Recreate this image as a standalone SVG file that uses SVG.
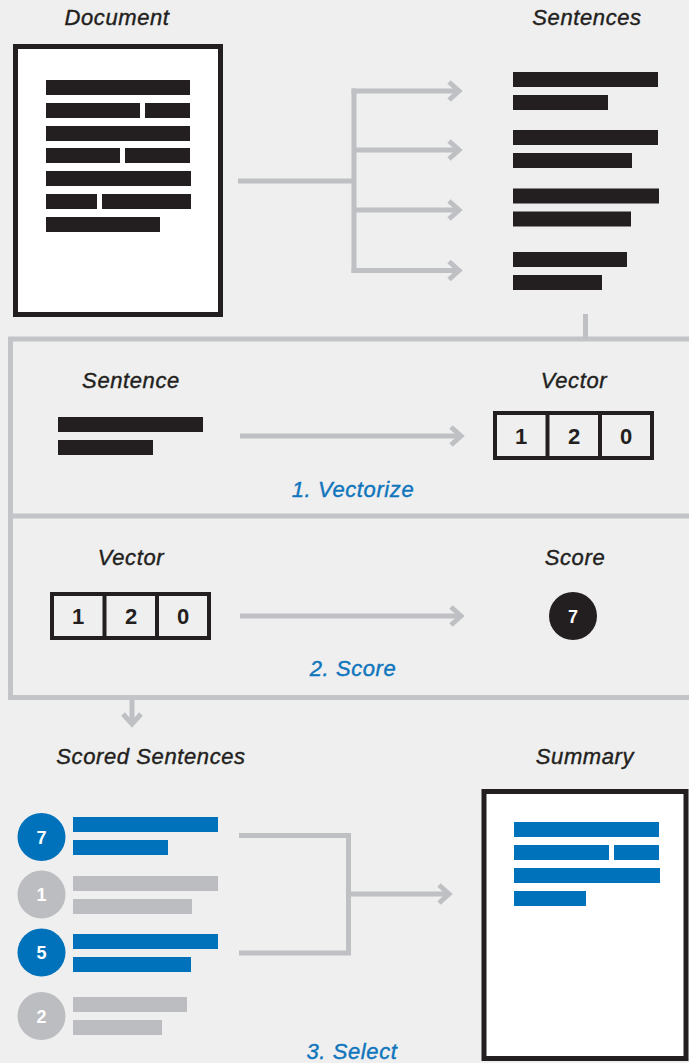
<svg xmlns="http://www.w3.org/2000/svg" width="689" height="1063" viewBox="0 0 689 1063">
  <style>
    .lbl { font-family: "Liberation Sans", Arial, sans-serif; font-style: italic; font-size: 22px; letter-spacing: 0.6px; fill: #231f20; stroke: #231f20; stroke-width: 0.4px; text-anchor: middle; }
    .step { font-family: "Liberation Sans", Arial, sans-serif; font-style: italic; font-size: 22px; letter-spacing: 0.6px; fill: #0f75bc; stroke: #0f75bc; stroke-width: 0.4px; text-anchor: middle; }
    .dig { font-family: "Liberation Sans", Arial, sans-serif; font-weight: bold; font-size: 22px; fill: #231f20; text-anchor: middle; }
    .wdig { font-family: "Liberation Sans", Arial, sans-serif; font-weight: bold; font-size: 18px; fill: #ffffff; text-anchor: middle; }
    .bar { fill: #231f20; }
    .bbar { fill: #0072bc; }
    .gbar { fill: #bcbdc0; }
    .page { fill: #ffffff; stroke: #231f20; stroke-width: 5; }
    .vec { fill: none; stroke: #231f20; stroke-width: 4; }
    .conn { fill: none; stroke: #bfc0c3; stroke-width: 5; }
    .frame { fill: none; stroke: #c3c4c7; stroke-width: 5; }
  </style>
  <defs>
    <marker id="chev" markerUnits="userSpaceOnUse" viewBox="0 0 24 24" markerWidth="24" markerHeight="24" refX="12" refY="12" orient="auto">
      <path d="M2,3 L12,12 L2,21" fill="none" stroke="#bfc0c3" stroke-width="5"/>
    </marker>
  </defs>

  <rect width="689" height="1063" fill="#efefef"/>

  <!-- process frame with two stages -->
  <g id="stages-frame">
    <path class="frame" d="M695,339 H10.5 V697.5 H695"/>
    <line class="frame" x1="10.5" y1="516" x2="695" y2="516"/>
  </g>

  <!-- connectors -->
  <g id="connectors">
    <path class="conn" d="M238,181 H354"/>
    <path class="conn" d="M354,88.5 V273"/>
    <line class="conn" x1="351.5" y1="91" x2="459" y2="91" marker-end="url(#chev)"/>
    <line class="conn" x1="354" y1="150" x2="459" y2="150" marker-end="url(#chev)"/>
    <line class="conn" x1="354" y1="210" x2="459" y2="210" marker-end="url(#chev)"/>
    <line class="conn" x1="351.5" y1="270.5" x2="459" y2="270.5" marker-end="url(#chev)"/>
    <line class="conn" x1="585.5" y1="314" x2="585.5" y2="339"/>
    <line class="conn" x1="240" y1="436" x2="461" y2="436" marker-end="url(#chev)"/>
    <line class="conn" x1="240" y1="616" x2="461" y2="616" marker-end="url(#chev)"/>
    <line class="conn" x1="132" y1="700" x2="132" y2="724" marker-end="url(#chev)"/>
    <path class="conn" d="M239,835.5 H348.5 V953 H239"/>
    <line class="conn" x1="348.5" y1="894" x2="449" y2="894" marker-end="url(#chev)"/>
  </g>

  <!-- source document -->
  <g id="document">
    <text class="lbl" x="117" y="25">Document</text>
    <rect class="page" x="15.5" y="46.5" width="205" height="268"/>
    <rect class="bar" x="46" y="80" width="144" height="15"/>
    <rect class="bar" x="46" y="103" width="94" height="15"/>
    <rect class="bar" x="145" y="103" width="45" height="15"/>
    <rect class="bar" x="46" y="126" width="144" height="15"/>
    <rect class="bar" x="46" y="148" width="74" height="15"/>
    <rect class="bar" x="125" y="148" width="65" height="15"/>
    <rect class="bar" x="46" y="171" width="145" height="15"/>
    <rect class="bar" x="46" y="194" width="51" height="15"/>
    <rect class="bar" x="102" y="194" width="89" height="15"/>
    <rect class="bar" x="46" y="217" width="114" height="15"/>
  </g>

  <!-- split sentences -->
  <g id="sentences">
    <text class="lbl" x="587" y="25">Sentences</text>
    <rect class="bar" x="513" y="72" width="145" height="15"/>
    <rect class="bar" x="513" y="95" width="95" height="15"/>
    <rect class="bar" x="513" y="130" width="145" height="15"/>
    <rect class="bar" x="513" y="153" width="119" height="15"/>
    <rect class="bar" x="513" y="188.5" width="146" height="15"/>
    <rect class="bar" x="513" y="211.5" width="118" height="15"/>
    <rect class="bar" x="513" y="252" width="114" height="15"/>
    <rect class="bar" x="513" y="275" width="89" height="15"/>
  </g>

  <!-- stage 1: vectorize -->
  <g id="stage1-sentence">
    <text class="lbl" x="131" y="388">Sentence</text>
    <rect class="bar" x="58" y="417" width="145" height="15"/>
    <rect class="bar" x="58" y="440" width="95" height="15"/>
  </g>
  <g id="stage1-vector">
    <text class="lbl" x="574" y="388">Vector</text>
    <rect class="vec" x="495" y="413" width="157" height="45"/>
    <line class="vec" x1="547.5" y1="413" x2="547.5" y2="458"/>
    <line class="vec" x1="600" y1="413" x2="600" y2="458"/>
    <text class="dig" x="521" y="444">1</text>
    <text class="dig" x="574" y="444">2</text>
    <text class="dig" x="626" y="444">0</text>
  </g>
  <text id="step1" class="step" x="353" y="497">1. Vectorize</text>

  <!-- stage 2: score -->
  <g id="stage2-vector">
    <text class="lbl" x="131" y="565">Vector</text>
    <rect class="vec" x="52" y="594" width="157" height="44"/>
    <line class="vec" x1="104.5" y1="594" x2="104.5" y2="638"/>
    <line class="vec" x1="157" y1="594" x2="157" y2="638"/>
    <text class="dig" x="78" y="624">1</text>
    <text class="dig" x="131" y="624">2</text>
    <text class="dig" x="183" y="624">0</text>
  </g>
  <g id="stage2-score">
    <text class="lbl" x="575" y="565">Score</text>
    <circle cx="573" cy="616" r="24" fill="#231f20"/>
    <text class="wdig" x="573" y="622.5">7</text>
  </g>
  <text id="step2" class="step" x="353" y="676">2. Score</text>

  <!-- scored sentences -->
  <g id="scored-sentences">
    <text class="lbl" x="151" y="764">Scored Sentences</text>
    <circle cx="41.5" cy="837" r="24" fill="#0072bc"/>
    <text class="wdig" x="41.5" y="843.5">7</text>
    <rect class="bbar" x="73" y="817" width="145" height="15"/>
    <rect class="bbar" x="73" y="840" width="95" height="15"/>

    <circle cx="41.5" cy="894.5" r="24" fill="#bcbdc0"/>
    <text class="wdig" x="41.5" y="901">1</text>
    <rect class="gbar" x="73" y="876" width="145" height="15"/>
    <rect class="gbar" x="73" y="899" width="119" height="15"/>

    <circle cx="41.5" cy="952.5" r="24" fill="#0072bc"/>
    <text class="wdig" x="41.5" y="959">5</text>
    <rect class="bbar" x="73" y="934" width="145" height="15"/>
    <rect class="bbar" x="73" y="957" width="118" height="15"/>

    <circle cx="41.5" cy="1016" r="24" fill="#bcbdc0"/>
    <text class="wdig" x="41.5" y="1022.5">2</text>
    <rect class="gbar" x="73" y="997" width="114" height="15"/>
    <rect class="gbar" x="73" y="1020" width="89" height="15"/>
  </g>
  <text id="step3" class="step" x="352" y="1059">3. Select</text>

  <!-- summary document -->
  <g id="summary">
    <text class="lbl" x="585" y="764">Summary</text>
    <rect class="page" x="484" y="791.5" width="202" height="267"/>
    <rect class="bbar" x="514" y="822" width="145" height="15"/>
    <rect class="bbar" x="514" y="845" width="95" height="15"/>
    <rect class="bbar" x="614" y="845" width="45" height="15"/>
    <rect class="bbar" x="514" y="868" width="146" height="15"/>
    <rect class="bbar" x="514" y="891" width="72" height="15"/>
  </g>
</svg>
